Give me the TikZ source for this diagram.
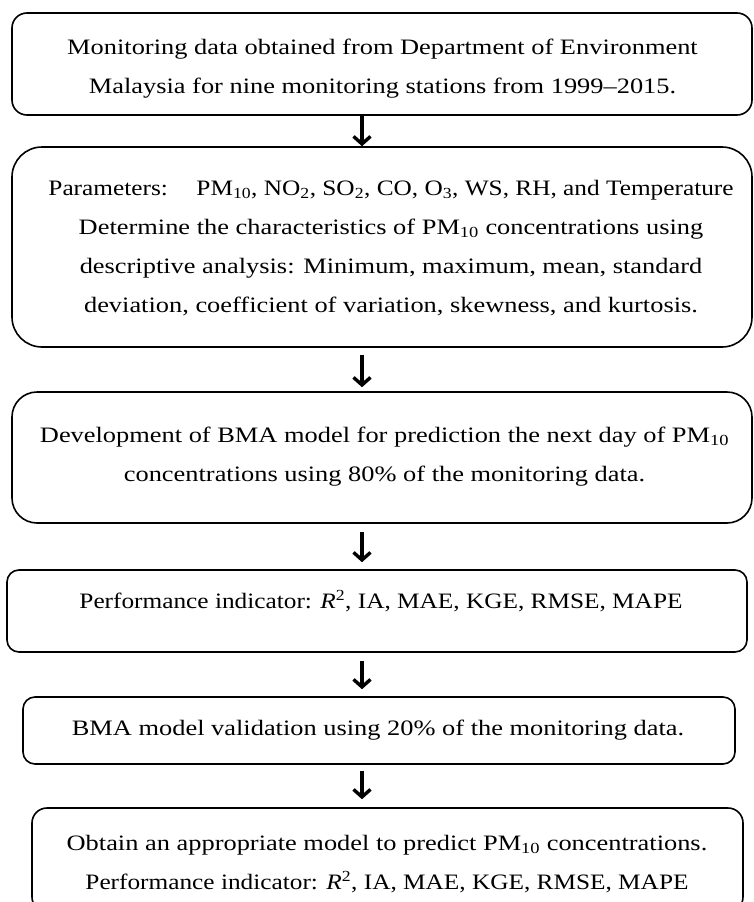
\documentclass[tikz,border=0pt]{standalone}
\usepackage{fontspec}
\setmainfont{Liberation Serif}[FakeStretch=1.2]
\newfontfamily\narrowserif{Liberation Serif}[FakeStretch=1.15]
\usetikzlibrary{arrows.meta}
\begin{document}
\begin{tikzpicture}[x=1pt,y=-1pt,
  box/.style={draw, line width=1.6pt, rounded corners=#1, inner sep=0pt},
  txt/.style={align=center, font=\fontsize{22}{39}\selectfont, inner sep=0pt},
  flow/.style={line width=3.4pt, -{Straight Barb[length=7.5pt,width=17pt]}}]
\useasboundingbox (0,0) rectangle (753,902);
\clip (0,0) rectangle (753,902);
% boxes
\node[box=15pt, minimum width=740pt, minimum height=102pt] (b1) at (382,64) {};
\node[box=30pt, minimum width=740pt, minimum height=200pt] (b2) at (382,247) {};
\node[box=25pt, minimum width=740pt, minimum height=131pt] (b3) at (382,457.5) {};
\node[box=12pt, minimum width=740pt, minimum height=82pt] (b4) at (377,611) {};
\node[box=12pt, minimum width=712pt, minimum height=67pt] (b5) at (379,730.5) {};
\node[box=15pt, minimum width=711pt, minimum height=104pt] (b6) at (387.5,860) {};
% texts
\node[txt] (t1) at (382.5,69) {Monitoring data obtained from Department of Environment\\Malaysia for nine monitoring stations from 1999–2015.};
\node[txt] (t2) at (391,248) {{\narrowserif Parameters:\hspace{1.3em}PM\textsubscript{10}, NO\textsubscript{2}, SO\textsubscript{2}, CO, O\textsubscript{3}, WS, RH, and Temperature}\\Determine the characteristics of PM\textsubscript{10} concentrations using\\descriptive analysis: Minimum, maximum, mean, standard\\deviation, coefficient of variation, skewness, and kurtosis.};
\node[txt] (t3) at (384.5,457) {Development of BMA model for prediction the next day of PM\textsubscript{10}\\concentrations using 80\% of the monitoring data.};
\node[txt] (t4) at (381,601) {\narrowserif Performance indicator: \textit{R}\textsuperscript{2}, IA, MAE, KGE, RMSE, MAPE};
\node[txt] (t5) at (378,730.5) {BMA model validation using 20\% of the monitoring data.};
\node[txt] (t6) at (387,864) {Obtain an appropriate model to predict PM\textsubscript{10} concentrations.\\{\narrowserif Performance indicator: \textit{R}\textsuperscript{2}, IA, MAE, KGE, RMSE, MAPE}};
% arrows
\coordinate (ax) at (362,0);
\draw[flow] (b1.south -| ax) -- (b2.north -| ax);
\draw[flow, shorten <=7pt, shorten >=4pt] (b2.south -| ax) -- (b3.north -| ax);
\draw[flow, shorten <=8pt, shorten >=7pt] (b3.south -| ax) -- (b4.north -| ax);
\draw[flow, shorten <=8pt, shorten >=7pt] (b4.south -| ax) -- (b5.north -| ax);
\draw[flow, shorten <=6pt, shorten >=8pt] (b5.south -| ax) -- (b6.north -| ax);
\end{tikzpicture}
\end{document}
